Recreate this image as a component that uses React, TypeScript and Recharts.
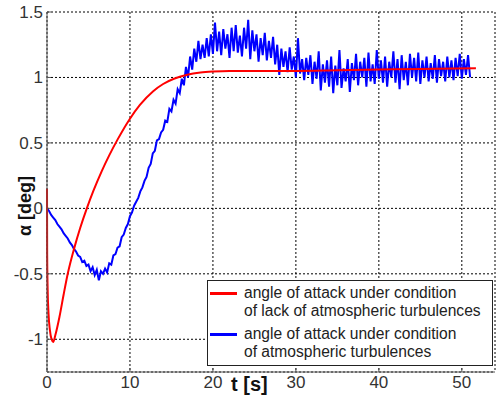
import { LineChart, Line, XAxis, YAxis, CartesianGrid } from 'recharts';

// red: no turbulence (time [s], alpha [deg])
const RED_T = [0, 0.02, 0.08, 0.18, 0.35, 0.55, 0.75, 1.0, 1.5, 2.0, 2.5, 3.3, 4.0, 4.8, 5.6, 6.6, 7.5, 8.5, 10, 11.2, 12.8, 14, 15.3, 16.9, 18.5, 20, 22, 25, 30, 35, 40, 45, 51.7];
const RED_A = [0.15, -0.35, -0.62, -0.8, -0.93, -1.0, -1.02, -0.97, -0.83, -0.66, -0.5, -0.3, -0.15, 0, 0.135, 0.285, 0.405, 0.525, 0.685, 0.79, 0.895, 0.95, 0.99, 1.02, 1.037, 1.045, 1.05, 1.05, 1.05, 1.055, 1.06, 1.065, 1.07];

// blue: with turbulence, sampled every 0.25 s
const BLUE_STEP = 0.25;
const BLUE_A = [
  0, -0.02, -0.05, -0.07, -0.09, -0.12, -0.14, -0.16, -0.19, -0.21, -0.23, -0.26,
  -0.28, -0.31, -0.33, -0.36, -0.37, -0.41, -0.40, -0.44, -0.43, -0.48, -0.45, -0.51,
  -0.47, -0.55, -0.48, -0.50, -0.46, -0.49, -0.42, -0.43, -0.36, -0.35, -0.30, -0.29,
  -0.22, -0.20, -0.15, -0.12, -0.06, -0.03, 0.02, 0.05, 0.08, 0.13, 0.16, 0.21,
  0.24, 0.31, 0.34, 0.42, 0.44, 0.52, 0.53, 0.58, 0.60, 0.67, 0.66, 0.76,
  0.74, 0.83, 0.80, 0.91, 0.88, 0.99, 0.94, 1.08, 1.0, 1.16, 1.06, 1.22,
  1.12, 1.28, 1.14, 1.25, 1.15, 1.30, 1.16, 1.33, 1.18, 1.42, 1.20, 1.35,
  1.17, 1.37, 1.22, 1.33, 1.15, 1.38, 1.20, 1.40, 1.19, 1.32, 1.16, 1.38,
  1.22, 1.44, 1.14, 1.36, 1.20, 1.33, 1.12, 1.30, 1.17, 1.34, 1.13, 1.28,
  1.15, 1.31, 1.10, 1.25, 1.02, 1.22, 1.08, 1.20, 1.04, 1.23, 1.06, 1.16,
  1.00, 1.30, 1.03, 1.14, 0.98, 1.15, 1.02, 1.17, 0.95, 1.12, 0.99, 1.20,
  0.90, 1.10, 0.96, 1.13, 0.93, 1.16, 0.88, 1.09, 0.94, 1.21, 0.92, 1.07,
  0.97, 1.14, 0.89, 1.11, 0.98, 1.18, 0.94, 1.12, 1.00, 1.15, 0.93, 1.19,
  0.97, 1.10, 0.95, 1.21, 0.99, 1.13, 0.96, 1.16, 0.93, 1.12, 1.00, 1.20,
  0.96, 1.14, 0.91, 1.17, 0.98, 1.12, 0.94, 1.18, 1.00, 1.15, 0.97, 1.19,
  0.95, 1.13, 1.00, 1.16, 0.97, 1.11, 0.99, 1.17, 0.96, 1.14, 1.01, 1.12,
  0.97, 1.16, 1.00, 1.13, 0.98, 1.15, 1.01, 1.18, 0.99, 1.14, 1.02, 1.17,
  1.00,
];

const X_TICKS = [0, 10, 20, 30, 40, 50];
const Y_TICKS = [-1, -0.5, 0, 0.5, 1, 1.5];
const LEGEND_ITEMS = [
  { color: '#ff0000', lines: ['angle of attack under condition', 'of lack of atmospheric turbulences'] },
  { color: '#0000ff', lines: ['angle of attack under condition', 'of atmospheric turbulences'] },
];

const FONT = '"Liberation Sans", Arial, sans-serif';

const redData = RED_T.map((t, i) => ({ t, a: RED_A[i] }));
const blueData = BLUE_A.map((a, i) => ({ t: i * BLUE_STEP, a }));

function LegendBox() {
  return (
    <div style={{ position: 'absolute', left: 207, top: 280, width: 286, height: 86, border: '1px solid #222', background: '#fff', padding: '3px 0 0 0', fontFamily: FONT, fontSize: 15.6, color: '#222', lineHeight: '17.5px', boxSizing: 'border-box' }}>
      {LEGEND_ITEMS.map((item, i) => (
        <div key={i} style={{ display: 'flex', marginTop: i === 0 ? 0 : 6 }}>
          <div style={{ width: 27, height: 3, background: item.color, marginLeft: 2, marginTop: 7.5, marginRight: 7, flexShrink: 0 }} />
          <div>
            {item.lines.map((l) => (
              <div key={l} style={{ whiteSpace: 'nowrap' }}>{l}</div>
            ))}
          </div>
        </div>
      ))}
    </div>
  );
}

export default function App() {
  return (
    <div style={{ position: 'absolute', left: 0, top: 0, width: 497, height: 396, background: '#fff' }}>
      <LineChart width={497} height={396} data={blueData} margin={{ top: 12, right: 2, left: 7, bottom: 0 }}>
        <CartesianGrid stroke="#000" strokeDasharray="2 2" strokeWidth={1} />
        <XAxis
          type="number"
          dataKey="t"
          domain={[0, 54]}
          ticks={X_TICKS}
          height={24}
          axisLine={{ stroke: '#555' }}
          tickLine={{ stroke: '#555' }}
          tickSize={-4}
          tickMargin={8}
          tick={{ fill: '#333', fontSize: 17, fontFamily: FONT }}
          allowDuplicatedCategory={false}
          label={{
            content: () => (
              <text x={231} y={391} fontFamily={FONT} fontWeight="bold" fontSize={20} fill="#111">t [s]</text>
            ),
          }}
        />
        <XAxis xAxisId="top" orientation="top" type="number" domain={[0, 54]} ticks={X_TICKS} height={0} tick={false} tickSize={-4} axisLine={{ stroke: '#555' }} tickLine={{ stroke: '#555' }} />
        <YAxis
          type="number"
          domain={[-1.25, 1.5]}
          ticks={Y_TICKS}
          width={40}
          axisLine={{ stroke: '#555' }}
          tickLine={{ stroke: '#555' }}
          tickSize={-4}
          tickMargin={8}
          tick={{ fill: '#333', fontSize: 17, fontFamily: FONT }}
          tickFormatter={(v: number) => String(v)}
          label={{
            content: () => (
              <text x={31} y={206} transform="rotate(-90 31 206)" textAnchor="middle" fontFamily={FONT} fontWeight="bold" fontSize={18} fill="#111">α [deg]</text>
            ),
          }}
        />
        <YAxis yAxisId="right" orientation="right" type="number" domain={[-1.25, 1.5]} ticks={Y_TICKS} width={0} tick={false} tickSize={-4} axisLine={{ stroke: '#555' }} tickLine={{ stroke: '#555' }} />
        <Line data={blueData} dataKey="a" type="linear" stroke="#0000ff" strokeWidth={2} dot={false} isAnimationActive={false} />
        <Line data={redData} dataKey="a" type="monotone" stroke="#ff0000" strokeWidth={2} dot={false} isAnimationActive={false} />
      </LineChart>
      <LegendBox />
    </div>
  );
}
